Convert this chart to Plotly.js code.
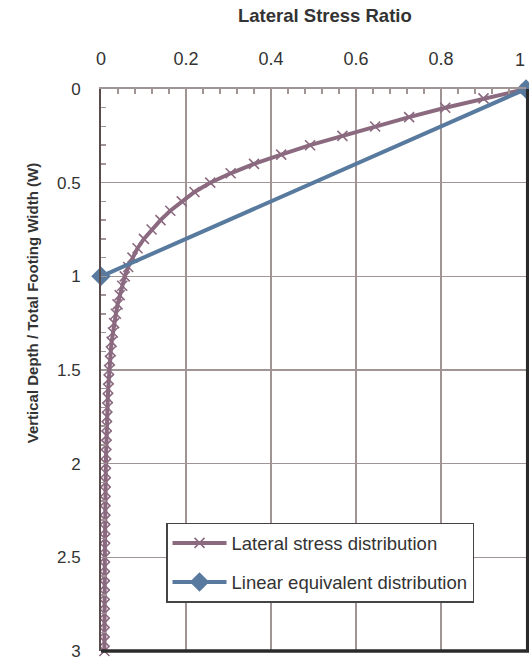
<!DOCTYPE html>
<html>
<head>
<meta charset="utf-8">
<script src="https://cdn.plot.ly/plotly-3.0.1.min.js"></script>
<style>html,body{margin:0;padding:0;background:#fff;}#chart{width:529px;height:661px;}</style>
</head>
<body>
<div id="chart"></div>
<script>
// Depth (z / W) for the lateral stress curve
const depth = [0.00,0.05,0.10,0.15,0.20,0.25,0.30,0.35,0.40,0.45,
               0.50,0.55,0.60,0.65,0.70,0.75,0.80,0.85,0.90,0.95,
               1.00,1.05,1.10,1.15,1.20,1.25,1.30,1.35,1.40,1.45,
               1.50,1.55,1.60,1.65,1.70,1.75,1.80,1.85,1.90,1.95,
               2.00,2.05,2.10,2.15,2.20,2.25,2.30,2.35,2.40,2.45,
               2.50,2.55,2.60,2.65,2.70,2.75,2.80,2.85,2.90,2.95,3.00];
// Lateral stress ratio
const lateralStress = [1.000,0.900,0.810,0.725,0.645,0.568,0.492,0.424,0.360,0.305,
                       0.257,0.220,0.190,0.163,0.140,0.119,0.101,0.086,0.074,0.064,
                       0.056,0.050,0.044,0.039,0.035,0.031,0.028,0.025,0.023,0.021,
                       0.019,0.018,0.017,0.016,0.015,0.014,0.0135,0.013,0.0125,0.012,
                       0.0115,0.011,0.0108,0.0105,0.0102,0.010,0.0098,0.0096,0.0094,0.0092,
                       0.009,0.0088,0.0087,0.0086,0.0085,0.0084,0.0083,0.0082,0.0081,0.008,0.008];
// Linear equivalent distribution
const linearDepth = [0, 1];
const linearStress = [1, 0];

const seriesNames = ["Lateral stress distribution", "Linear equivalent distribution"];
const xTitle = "Lateral Stress Ratio";
const yTitle = "Vertical Depth / Total Footing Width (W)";
const xEdgeLabel = "1";

const mauve = "#8b6a80";
const blue = "#587a9f";
const gridCol = "#a09494";
const textCol = "#333333";
const fontFam = "Liberation Sans, Arial, sans-serif";

const traces = [
  {
    x: lateralStress, y: depth, name: seriesNames[0], type: "scatter", mode: "lines+markers",
    line: {color: mauve, width: 4},
    marker: {symbol: "x-thin-open", size: 10, color: mauve, line: {color: mauve, width: 1.6}},
    cliponaxis: false, legendgroup: "a"
  },
  {
    x: linearStress, y: linearDepth, name: seriesNames[1], type: "scatter", mode: "lines+markers",
    line: {color: blue, width: 4},
    marker: {symbol: "diamond", size: 15, color: blue},
    cliponaxis: false, legendgroup: "b"
  }
];

const layout = {
  width: 529, height: 661,
  margin: {l: 101, r: 3, t: 89, b: 10},
  paper_bgcolor: "#fff", plot_bgcolor: "#fff",
  font: {family: fontFam, color: textCol, size: 17},
  showlegend: true,
  legend: {
    x: 0.153, y: 0.228, xanchor: "left", yanchor: "top",
    bgcolor: "#fff", bordercolor: "#444", borderwidth: 1.5,
    font: {family: fontFam, size: 18.5, color: textCol},
    tracegroupgap: 12, itemwidth: 54
  },
  xaxis: {
    side: "top", range: [0, 1], dtick: 0.2, tick0: 0,
    showgrid: true, gridcolor: gridCol, gridwidth: 1.5,
    zeroline: false, showline: true, linecolor: gridCol, linewidth: 2,
    ticks: "inside", ticklen: 6, tickcolor: gridCol, tickwidth: 1.5,
    minor: {dtick: 0.04, ticks: "inside", ticklen: 5, tickcolor: gridCol, tickwidth: 1.5, showgrid: false},
    ticklabelstandoff: 15,
    tickfont: {size: 18, color: textCol}
  },
  yaxis: {
    range: [3, 0], dtick: 0.5, tick0: 0,
    showgrid: true, gridcolor: gridCol, gridwidth: 1.5,
    zeroline: false, showline: true, linecolor: "#5a4c4c", linewidth: 2,
    ticks: "inside", ticklen: 6, tickcolor: gridCol, tickwidth: 1.5,
    minor: {dtick: 0.1, ticks: "inside", ticklen: 5, tickcolor: gridCol, tickwidth: 1.5, showgrid: false},
    ticklabelstandoff: 15,
    tickfont: {size: 17, color: textCol}
  },
  shapes: [
    {type: "line", xref: "paper", yref: "paper", x0: 0, x1: 1.01, y0: 0, y1: 0, line: {color: "#2a2a2a", width: 3.5}},
    {type: "line", xref: "paper", yref: "paper", x0: 1.004, x1: 1.004, y0: 0, y1: 1, line: {color: "#2a2a2a", width: 3.5}}
  ],
  annotations: [
    {text: "<b>" + xTitle + "</b>", xref: "paper", yref: "paper", x: 0.528, y: 1.131,
     xanchor: "center", yanchor: "middle", showarrow: false, font: {size: 18.5, color: textCol}},
    {text: "<b>" + yTitle + "</b>", xref: "paper", yref: "paper", x: -0.162, y: 0.619,
     xanchor: "center", yanchor: "middle", showarrow: false, textangle: -90, font: {size: 15, color: textCol}},
    {text: xEdgeLabel, xref: "paper", yref: "paper", x: 1.0035, y: 1.052,
     xanchor: "right", yanchor: "middle", showarrow: false, font: {size: 18, color: textCol}}
  ]
};

Plotly.newPlot("chart", traces, layout, {displayModeBar: false, staticPlot: true});
</script>
</body>
</html>
